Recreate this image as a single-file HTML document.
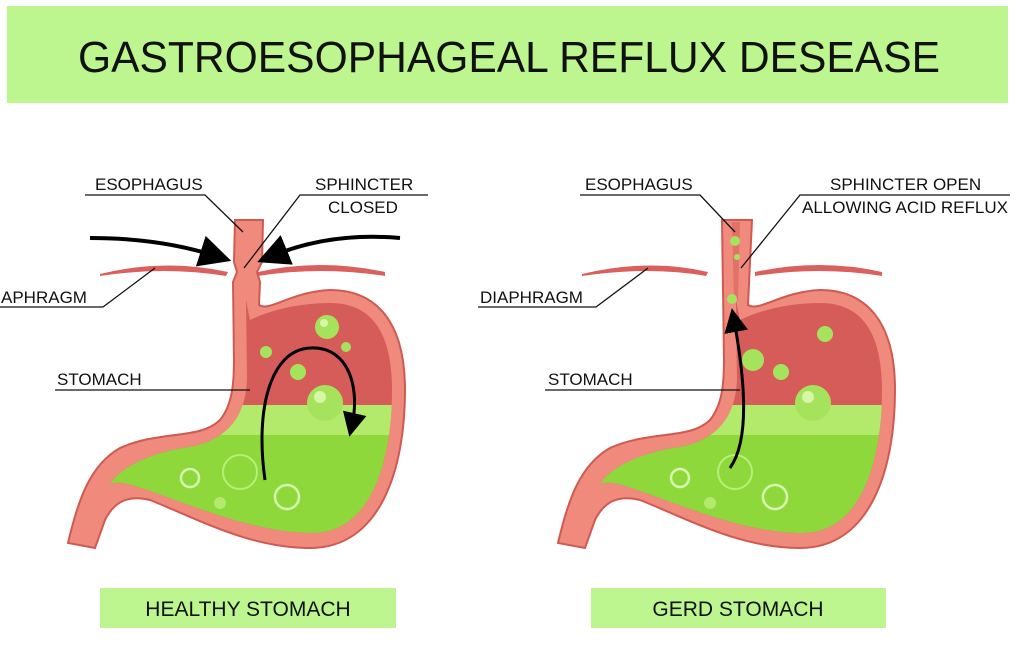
<!DOCTYPE html>
<html><head><meta charset="utf-8"><style>
html,body{margin:0;padding:0;background:#fff;}
body{width:1018px;height:668px;overflow:hidden;position:relative;font-family:"Liberation Sans","DejaVu Sans",sans-serif;}
svg{position:absolute;left:0;top:0;}
</style></head><body>
<svg width="1018" height="668" viewBox="0 0 1018 668" xmlns="http://www.w3.org/2000/svg" font-family="Liberation Sans, DejaVu Sans, sans-serif" xml:space="preserve">
<defs>
<clipPath id="cavL"><path d="M246,300 L250,320 C270,310 300,303 330,303 C370,303 392,330 392,390 C392,460 372,533 312,533 C250,533 180,500 135,486 C122,482 114,482 110,484 C120,468 150,452 190,447 C225,440 245,420 247,380 Z"/></clipPath>
<clipPath id="cavR"><path transform="translate(490,0)" d="M246,300 L250,320 C270,310 300,303 330,303 C370,303 392,330 392,390 C392,460 372,533 312,533 C250,533 180,500 135,486 C122,482 114,482 110,484 C120,468 150,452 190,447 C225,440 245,420 247,380 Z"/></clipPath>
<marker id="ah" markerWidth="8" markerHeight="8" refX="4" refY="4" orient="auto" markerUnits="strokeWidth"><path d="M0,0 L8,4 L0,8 Z" fill="#000"/></marker>
</defs>
<rect x="7" y="6" width="1001" height="97" fill="#bdf68e"/>
<text x="78" y="72" font-size="44" textLength="862" lengthAdjust="spacingAndGlyphs" fill="#111">GASTROESOPHAGEAL REFLUX  DESEASE</text>

<!-- LEFT stomach -->
<g>
<path d="M100,274 Q165,258 228,272 L226,276 Q165,266 100,276 Z" fill="#d9605c"/>
<path d="M258,272 Q320,258 385,272 L385,276 Q320,266 258,276 Z" fill="#d9605c"/>
<path d="M235,220 L263,220 L262,262 L257,272 L260,282 L259,305 C270,312 290,292 330,290 C375,290 405,320 405,390 C405,470 380,548 310,548 C250,548 200,520 150,500 C130,495 115,500 105,520 L95,548 L68,543 C78,500 90,465 120,448 C160,430 200,440 220,420 C232,405 234,385 234,360 L233,282 L237,272 L234,262 Z" fill="#ef8a7d" stroke="#cf5a52" stroke-width="2"/>
<path d="M246,300 L250,320 C270,310 300,303 330,303 C370,303 392,330 392,390 C392,460 372,533 312,533 C250,533 180,500 135,486 C122,482 114,482 110,484 C120,468 150,452 190,447 C225,440 245,420 247,380 Z" fill="#d65c5a"/>
<g clip-path="url(#cavL)">
<rect x="100" y="405" width="320" height="150" fill="#8ed83c"/>
<rect x="100" y="405" width="320" height="30" fill="#b3ea6c"/>
<circle cx="240" cy="472" r="17" fill="none" stroke="#b8ee7a" stroke-width="2"/>
<circle cx="190" cy="478" r="9" fill="none" stroke="#d8f9b0" stroke-width="2.5"/>
<circle cx="287" cy="497" r="12" fill="none" stroke="#d8f9b0" stroke-width="2.5"/>
<circle cx="220" cy="503" r="6" fill="#b3ea6c"/>
</g>
<circle cx="325" cy="403" r="18" fill="#a6e35c"/><circle cx="320" cy="397" r="6" fill="#d6f7a8"/>
<circle cx="327" cy="327" r="12" fill="#a6e35c"/><circle cx="324" cy="323" r="4" fill="#d6f7a8"/>
<circle cx="298" cy="372" r="8" fill="#a6e35c"/>
<circle cx="266" cy="352" r="6" fill="#a6e35c"/>
<circle cx="346" cy="347" r="5" fill="#a6e35c"/>
<path d="M90,238 Q160,238 216,256" fill="none" stroke="#000" stroke-width="4" marker-end="url(#ah)"/>
<path d="M400,238 Q330,232 272,256" fill="none" stroke="#000" stroke-width="4" marker-end="url(#ah)"/>
<path d="M265,480 C255,410 270,350 310,348 C350,346 360,390 352,425" fill="none" stroke="#000" stroke-width="3" marker-end="url(#ah)"/>
</g>

<!-- RIGHT stomach -->
<g transform="translate(490,0)">
<path d="M92,274 Q160,258 218,272 L216,276 Q160,266 92,276 Z" fill="#d9605c"/>
<path d="M265,272 Q330,258 392,272 L392,276 Q330,266 265,276 Z" fill="#d9605c"/>
<path d="M232,220 L262,220 L258,305 C270,312 290,292 330,290 C375,290 405,320 405,390 C405,470 380,548 310,548 C250,548 200,520 150,500 C130,495 115,500 105,520 L95,548 L68,543 C78,500 90,465 120,448 C160,430 200,440 220,420 C232,405 234,385 234,360 Z" fill="#ef8a7d" stroke="#cf5a52" stroke-width="2"/>
<path d="M242,222 L250,222 L248,300 L244,300 Z" fill="#d9605c" opacity="0.6"/>
<path d="M246,300 L250,320 C270,310 300,303 330,303 C370,303 392,330 392,390 C392,460 372,533 312,533 C250,533 180,500 135,486 C122,482 114,482 110,484 C120,468 150,452 190,447 C225,440 245,420 247,380 Z" fill="#d65c5a"/>
</g>
<g clip-path="url(#cavR)">
<rect x="590" y="405" width="320" height="150" fill="#8ed83c"/>
<rect x="590" y="405" width="320" height="30" fill="#b3ea6c"/>
<circle cx="735" cy="472" r="17" fill="none" stroke="#b8ee7a" stroke-width="2"/>
<circle cx="680" cy="478" r="9" fill="none" stroke="#d8f9b0" stroke-width="2.5"/>
<circle cx="775" cy="497" r="12" fill="none" stroke="#d8f9b0" stroke-width="2.5"/>
<circle cx="710" cy="503" r="6" fill="#b3ea6c"/>
</g>
<circle cx="813" cy="403" r="18" fill="#a6e35c"/><circle cx="808" cy="397" r="6" fill="#d6f7a8"/>
<circle cx="825" cy="334" r="8" fill="#a6e35c"/>
<circle cx="781" cy="372" r="8" fill="#a6e35c"/>
<circle cx="753" cy="360" r="11" fill="#a6e35c"/>
<circle cx="735" cy="241" r="5" fill="#a6e35c"/>
<circle cx="737" cy="257" r="3" fill="#a6e35c"/>
<circle cx="732" cy="299" r="5" fill="#a6e35c"/>
<path d="M730,468 C750,440 745,380 734,320" fill="none" stroke="#000" stroke-width="3" marker-end="url(#ah)"/>

<!-- labels -->
<g font-size="17" fill="#111">
<text x="95" y="190">ESOPHAGUS</text>
<text x="315" y="190">SPHINCTER</text>
<text x="328" y="213">CLOSED</text>
<text x="-16" y="303">DIAPHRAGM</text>
<text x="57" y="385">STOMACH</text>
<text x="585" y="190">ESOPHAGUS</text>
<text x="830" y="190">SPHINCTER  OPEN</text>
<text x="802" y="213">ALLOWING ACID REFLUX</text>
<text x="480" y="303">DIAPHRAGM</text>
<text x="548" y="385">STOMACH</text>
</g>
<g fill="none" stroke="#111" stroke-width="1.3">
<polyline points="85,195 205,195 243,232"/>
<polyline points="428,195 300,195 244,268"/>
<polyline points="0,307 103,307 155,268"/>
<polyline points="55,390 250,390"/>
<polyline points="580,195 700,195 735,232"/>
<polyline points="1010,195 800,195 741,268"/>
<polyline points="478,307 596,307 648,268"/>
<polyline points="545,390 740,390"/>
</g>

<rect x="100" y="588" width="296" height="40" fill="#bdf68e"/>
<text x="248" y="616" font-size="21" text-anchor="middle" fill="#111">HEALTHY  STOMACH</text>
<rect x="591" y="588" width="295" height="40" fill="#bdf68e"/>
<text x="738" y="616" font-size="21" text-anchor="middle" fill="#111">GERD  STOMACH</text>
</svg>
</body></html>
